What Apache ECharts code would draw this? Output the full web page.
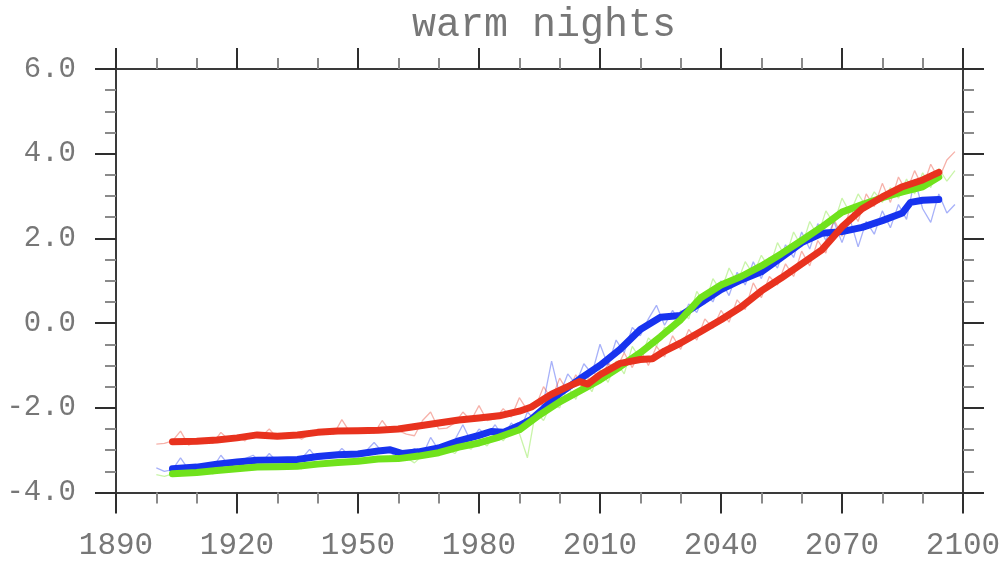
<!DOCTYPE html>
<html>
<head>
<meta charset="utf-8">
<title>warm nights</title>
<script src="https://cdn.jsdelivr.net/npm/echarts@6/dist/echarts.min.js"></script>
<style>
  html, body { margin: 0; padding: 0; background: #fff; }
  #chart { width: 1006px; height: 563px; }
</style>
</head>
<body>
<div id="chart"></div>
<script>
// Annual anomalies, sampled every second year from 1900 to 2098
const rawStart = 1900;
const rawStep = 2;

const redRaw = [
  -2.86, -2.84, -2.78, -2.55, -2.88, -2.80, -2.74, -2.84, -2.58, -2.76,
  -2.70, -2.78, -2.60, -2.68, -2.50, -2.72, -2.70, -2.62, -2.74, -2.62,
  -2.60, -2.55, -2.62, -2.28, -2.58, -2.56, -2.50, -2.60, -2.30, -2.56,
  -2.54, -2.62, -2.66, -2.30, -2.10, -2.50, -2.48, -2.36, -2.10, -2.30,
  -1.95, -2.30, -2.26, -2.02, -2.22, -1.76, -2.06, -1.98, -1.50, -1.80,
  -1.30, -1.62, -1.22, -1.54, -1.10, -1.36, -0.95, -1.10, -0.70, -1.05,
  -0.62, -1.00, -0.55, -0.80, -0.30, -0.62, -0.15, -0.40, 0.10, -0.12,
  0.30, 0.02, 0.55, 0.32, 0.95, 0.60, 1.10, 0.90, 1.40, 1.10,
  1.70, 1.35, 1.95, 1.65, 2.45, 2.05, 2.70, 2.40, 3.05, 2.75,
  3.30, 2.85, 3.45, 3.10, 3.60, 3.20, 3.75, 3.40, 3.85, 4.05
];

const blueRaw = [
  -3.42, -3.50, -3.46, -3.18, -3.46, -3.42, -3.36, -3.42, -3.12, -3.36,
  -3.30, -3.20, -3.12, -3.30, -3.08, -3.28, -3.26, -3.30, -3.20, -2.98,
  -3.22, -3.18, -3.16, -2.96, -3.14, -3.12, -3.02, -2.82, -3.04, -3.06,
  -3.18, -3.10, -2.96, -3.12, -2.70, -3.00, -2.86, -2.76, -2.40, -2.80,
  -2.50, -2.66, -2.40, -2.70, -2.36, -2.58, -2.10, -2.30, -1.86, -0.90,
  -1.70, -1.20, -1.44, -0.96, -1.20, -0.50, -1.00, -0.40, -0.70, -0.10,
  -0.30, 0.10, 0.42, -0.05, 0.30, 0.00, 0.45, 0.25, 0.70, 0.50,
  1.00, 0.65, 1.20, 0.90, 1.45, 1.05, 1.55, 1.30, 1.85, 1.55,
  2.15, 1.75, 2.35, 1.95, 2.40, 1.90, 2.45, 1.80, 2.40, 2.10,
  2.65, 2.25, 2.80, 2.45, 3.40, 2.70, 2.38, 3.05, 2.60, 2.80
];

const greenRaw = [
  -3.58, -3.62, -3.56, -3.60, -3.50, -3.58, -3.48, -3.56, -3.42, -3.50,
  -3.46, -3.38, -3.46, -3.36, -3.44, -3.34, -3.42, -3.36, -3.44, -3.30,
  -3.36, -3.26, -3.34, -3.22, -3.32, -3.24, -3.30, -3.16, -3.24, -3.14,
  -3.26, -3.18, -3.30, -3.12, -3.04, -3.10, -2.96, -3.08, -2.84, -2.98,
  -2.76, -2.90, -2.62, -2.78, -2.50, -2.60, -3.18, -2.10, -2.30, -1.90,
  -2.00, -1.50, -1.80, -1.30, -1.62, -1.10, -1.40, -0.90, -1.20, -0.55,
  -0.85, -0.35, -0.55, -0.10, -0.20, 0.30, 0.10, 0.75, 0.45, 1.05,
  0.75, 1.30, 0.95, 1.45, 1.15, 1.60, 1.30, 1.90, 1.55, 2.15,
  1.80, 2.40, 2.05, 2.65, 2.35, 2.95, 2.60, 3.05, 2.75, 3.10,
  2.85, 3.20, 2.95, 3.40, 3.05, 3.55, 3.20, 3.65, 3.35, 3.60
];

// Running-mean curves as [year, value]
const redSmooth = [
  [1904, -2.80], [1910, -2.79], [1915, -2.76], [1920, -2.71], [1925, -2.64],
  [1930, -2.67], [1935, -2.64], [1940, -2.58], [1945, -2.55], [1950, -2.54],
  [1955, -2.53], [1960, -2.50], [1965, -2.43], [1970, -2.36], [1975, -2.29],
  [1980, -2.24], [1985, -2.19], [1990, -2.08], [1993, -1.98], [1996, -1.80],
  [1998, -1.68], [2002, -1.50], [2005, -1.38], [2007, -1.44], [2010, -1.22],
  [2015, -0.95], [2020, -0.86], [2023, -0.84], [2026, -0.66], [2030, -0.47],
  [2035, -0.20], [2040, 0.08], [2045, 0.38], [2050, 0.76], [2055, 1.07],
  [2060, 1.40], [2065, 1.73], [2070, 2.27], [2075, 2.70], [2080, 2.98],
  [2085, 3.22], [2090, 3.38], [2094, 3.56]
];

const blueSmooth = [
  [1904, -3.44], [1910, -3.40], [1915, -3.33], [1920, -3.28], [1925, -3.24],
  [1930, -3.23], [1935, -3.22], [1940, -3.15], [1945, -3.11], [1950, -3.09],
  [1955, -3.02], [1958, -2.99], [1961, -3.08], [1965, -3.04], [1970, -2.95],
  [1975, -2.78], [1980, -2.65], [1983, -2.56], [1986, -2.58], [1990, -2.42],
  [1993, -2.27], [1996, -2.02], [2000, -1.66], [2005, -1.32], [2010, -1.00],
  [2015, -0.62], [2020, -0.15], [2025, 0.14], [2030, 0.18], [2035, 0.48],
  [2040, 0.79], [2045, 1.02], [2050, 1.21], [2055, 1.55], [2060, 1.90],
  [2065, 2.12], [2070, 2.16], [2075, 2.26], [2080, 2.42], [2085, 2.60],
  [2087, 2.85], [2090, 2.90], [2094, 2.92]
];

const greenSmooth = [
  [1904, -3.56], [1910, -3.53], [1915, -3.48], [1920, -3.44], [1925, -3.40],
  [1930, -3.39], [1935, -3.38], [1940, -3.33], [1945, -3.29], [1950, -3.26],
  [1955, -3.21], [1960, -3.20], [1965, -3.14], [1970, -3.06], [1975, -2.93],
  [1980, -2.83], [1985, -2.69], [1990, -2.52], [1995, -2.17], [2000, -1.86],
  [2005, -1.60], [2010, -1.34], [2015, -1.03], [2020, -0.70], [2025, -0.32],
  [2030, 0.08], [2035, 0.60], [2040, 0.90], [2045, 1.10], [2050, 1.35],
  [2055, 1.64], [2060, 1.95], [2065, 2.27], [2070, 2.62], [2075, 2.80],
  [2080, 2.96], [2085, 3.10], [2090, 3.22], [2094, 3.45]
];

const colors = { red: '#e8321e', blue: '#1733ef', green: '#70e21c' };
const textColor = '#777777';
const fontFamily = '"Liberation Mono", "DejaVu Sans Mono", monospace';

function withYears(values) {
  return values.map((v, i) => [rawStart + i * rawStep, v]);
}

function rawLine(values, color) {
  return {
    type: 'line', data: withYears(values), showSymbol: false, silent: true,
    lineStyle: { color: color, width: 1.3, opacity: 0.38 }, z: 2
  };
}
function smoothLine(values, color, z) {
  return {
    type: 'line', data: values, showSymbol: false, silent: true,
    lineStyle: { color: color, width: 7, cap: 'round', join: 'round' }, z: z
  };
}

const tickCommon = {
  axisLine: { show: true, onZero: false, lineStyle: { color: '#3a3a3a', width: 2 } },
  axisTick: { show: true, inside: false, length: 21, lineStyle: { color: '#2e2e2e', width: 2 } },
  minorTick: { show: true, length: 11, lineStyle: { color: '#8a8a8a', width: 2 } },
  splitLine: { show: false },
  minorSplitLine: { show: false }
};

const xBase = Object.assign({ type: 'value', min: 1890, max: 2100, interval: 30 }, tickCommon);
const yBase = Object.assign({ type: 'value', min: -4, max: 6, interval: 2 }, tickCommon);

const chart = echarts.init(document.getElementById('chart'), null, { renderer: 'canvas' });
chart.setOption({
  animation: false,
  backgroundColor: '#fff',
  title: {
    text: 'warm nights',
    left: 539, top: 0, textAlign: 'center',
    textStyle: { fontFamily: fontFamily, fontSize: 40, fontWeight: 'normal', color: textColor }
  },
  grid: { left: 116, top: 69, width: 847, height: 423.5 },
  xAxis: [
    Object.assign({}, xBase, {
      position: 'bottom',
      minorTick: Object.assign({}, tickCommon.minorTick, { splitNumber: 3 }),
      axisLabel: {
        margin: 38, fontFamily: fontFamily, fontSize: 31, color: textColor,
        formatter: v => String(v)
      }
    }),
    Object.assign({}, xBase, {
      position: 'top',
      minorTick: Object.assign({}, tickCommon.minorTick, { splitNumber: 3 }),
      axisLabel: { show: false }
    })
  ],
  yAxis: [
    Object.assign({}, yBase, {
      position: 'left',
      minorTick: Object.assign({}, tickCommon.minorTick, { splitNumber: 4 }),
      axisLabel: {
        margin: 40, fontFamily: fontFamily, fontSize: 29, color: textColor,
        formatter: v => v.toFixed(1)
      }
    }),
    Object.assign({}, yBase, {
      position: 'right',
      minorTick: Object.assign({}, tickCommon.minorTick, { splitNumber: 4 }),
      axisLabel: { show: false }
    })
  ],
  series: [
    rawLine(blueRaw, colors.blue),
    rawLine(greenRaw, colors.green),
    rawLine(redRaw, colors.red),
    smoothLine(blueSmooth, colors.blue, 3),
    smoothLine(greenSmooth, colors.green, 4),
    smoothLine(redSmooth, colors.red, 5)
  ]
});
</script>
</body>
</html>
